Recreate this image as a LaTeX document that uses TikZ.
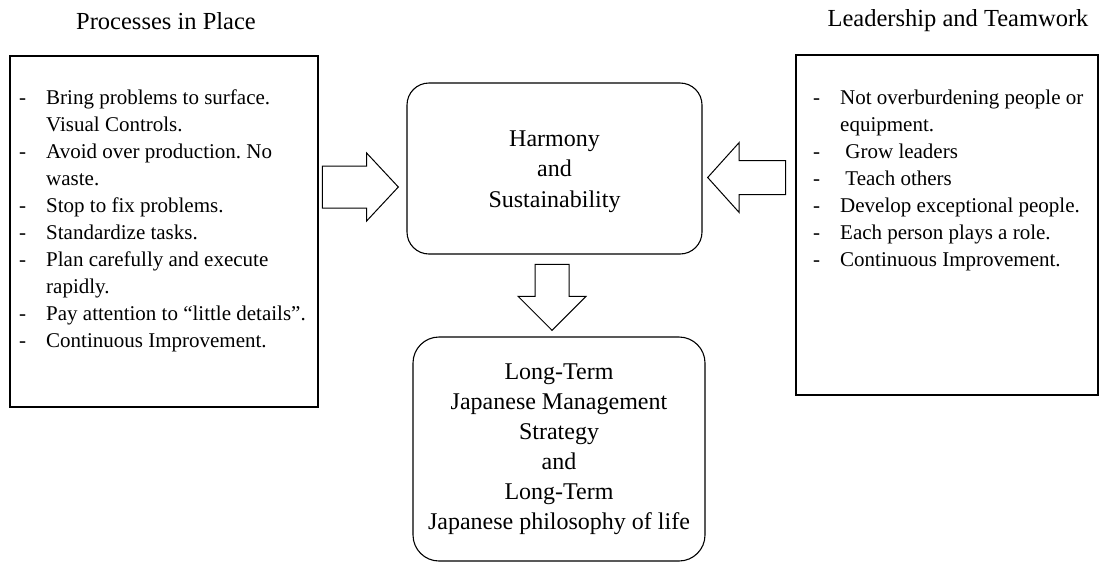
\documentclass[tikz,border=0pt]{standalone}
\usepackage{fontspec}
\setmainfont{Liberation Serif}
\usepackage{tikz}
\usetikzlibrary{shapes.arrows,positioning}
\frenchspacing

\tikzset{
  plainbox/.style={draw, line width=2.4pt, inner sep=0pt},
  roundbox/.style={draw, line width=1.1pt, rounded corners=22pt, inner sep=0pt},
  titletext/.style={font=\fontsize{24.5}{28}\selectfont, inner sep=0pt},
  listtext/.style={anchor=north west, inner sep=0pt, font=\fontsize{21}{27}\selectfont},
  mainlines/.style={align=center, inner sep=0pt, font=\fontsize{24}{#1}\selectfont},
  blockarrow/.style={draw, line width=1pt, single arrow, anchor=tip,
    single arrow head extend=#1},
}
\newcommand{\dashcol}{\makebox[27pt][l]{-}}

\begin{document}
\begin{tikzpicture}[x=1pt,y=-1pt]
\useasboundingbox (0,0) rectangle (1100,563);

% outer frames
\node[plainbox, minimum width=308pt, minimum height=351pt] (procbox) at (164,231.5) {};
\node[plainbox, minimum width=302pt, minimum height=340pt] (leadbox) at (947,225) {};
\node[roundbox, minimum width=295pt, minimum height=171pt] (harmony) at (554.5,168.5) {};
\node[roundbox, minimum width=292pt, minimum height=224pt, rounded corners=26pt] (longterm) at (559,449) {};

% headings
\node[titletext] (proctitle) at (166,21) {Processes in Place};
\node[titletext] (leadtitle) at (958,21) {Leadership and Teamwork};

% bullet lists
\node[listtext] (proclist) at (19,85)
{\begin{tabular}{@{}l@{}l@{}}
\dashcol & Bring problems to surface.\\
 & Visual Controls.\\
\dashcol & Avoid over production. No\\
 & waste.\\
\dashcol & Stop to fix problems.\\
\dashcol & Standardize tasks.\\
\dashcol & Plan carefully and execute\\
 & rapidly.\\
\dashcol & Pay attention to “little details”.\\
\dashcol & Continuous Improvement.
\end{tabular}};

\node[listtext] (leadlist) at (813,85)
{\begin{tabular}{@{}l@{}l@{}}
\dashcol & Not overburdening people or\\
 & equipment.\\
\dashcol & \ Grow leaders\\
\dashcol & \ Teach others\\
\dashcol & Develop exceptional people.\\
\dashcol & Each person plays a role.\\
\dashcol & Continuous Improvement.
\end{tabular}};

% box texts
\node[mainlines=30.5] (harmonytext) at ([yshift=-3pt]harmony.center) {Harmony\\and\\Sustainability};
\node[mainlines=30] (longtermtext) at (longterm.center)
{Long-Term\\Japanese Management\\Strategy\\and\\Long-Term\\Japanese philosophy of life};

% block arrows
\node[blockarrow=13pt, inner xsep=0pt, inner ysep=20.5pt, minimum height=76pt, single arrow tip angle=94] (larr) at (399,187) {};
\node[blockarrow=18pt, inner xsep=0pt, inner ysep=16.5pt, minimum height=78pt, single arrow tip angle=96, shape border rotate=180] (rarr) at (707,177.5) {};
\node[blockarrow=17pt, inner ysep=0pt, inner xsep=16.5pt, minimum height=66pt, shape border rotate=270] (darr) at (552,331) {};
\end{tikzpicture}
\end{document}
